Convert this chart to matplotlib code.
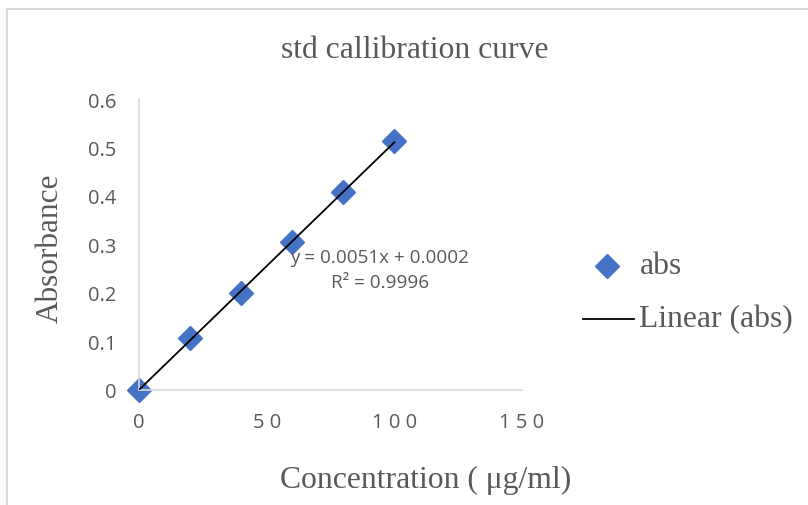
import matplotlib
matplotlib.use("Agg")
import matplotlib.pyplot as plt
import numpy as np
from matplotlib.lines import Line2D

conc = [0, 20, 40, 60, 80, 100]
absorb = [0.0, 0.107, 0.200, 0.305, 0.408, 0.513]
x_ticks = [0, 50, 100, 150]
y_ticks = [0, 0.1, 0.2, 0.3, 0.4, 0.5, 0.6]
y_tick_labels = ["0", "0.1", "0.2", "0.3", "0.4", "0.5", "0.6"]
x_tick_labels = ["0", "5 0", "1 0 0", "1 5 0"]

W, H = 808, 506
fig = plt.figure(figsize=(W / 100, H / 100), dpi=100)
fig.patch.set_facecolor("white")

# outer chart border (only top/left visible)
fig.add_artist(Line2D([7 / W, 1], [1 - 10 / H, 1 - 10 / H], color="#d9d9d9", lw=1.5, transform=fig.transFigure))
fig.add_artist(Line2D([7 / W, 7 / W], [0, 1 - 10 / H], color="#d9d9d9", lw=1.5, transform=fig.transFigure))

ax = fig.add_axes([139 / W, 115 / H, (522 - 139) / W, (391 - 100) / H])
ax.set_xlim(0, 150)
ax.set_ylim(0, 0.6)
for s in ["top", "right"]:
    ax.spines[s].set_visible(False)
for s in ["left", "bottom"]:
    ax.spines[s].set_color("#d9d9d9")
    ax.spines[s].set_linewidth(1.2)
ax.tick_params(length=0, colors="#595959")
ax.set_xticks(x_ticks)
ax.set_xticklabels(x_tick_labels, fontfamily="Open Sans", color="#595959", fontsize=14.5)
ax.set_yticks(y_ticks)
ax.set_yticklabels(y_tick_labels, fontfamily="Open Sans", color="#595959", fontsize=14.5)
ax.tick_params(axis="x", pad=16)
ax.tick_params(axis="y", pad=16)

slope, intercept = np.polyfit(conc, absorb, 1)
xs = np.array([min(conc), max(conc)])
ax.plot(xs, slope * xs + intercept, color="black", lw=1.3, zorder=3)
ax.plot(conc, absorb, linestyle="none", marker="D", markersize=12, color="#4472C4", zorder=2, clip_on=False)

ax.text(379 / W, 1 - 258 / H, "y = 0.0051x + 0.0002", transform=fig.transFigure, ha="center", va="center",
        fontsize=13.6, color="#595959", fontfamily="Open Sans")
ax.text(380 / W, 1 - 283 / H, "R² = 0.9996", transform=fig.transFigure, ha="center", va="center",
        fontsize=13.6, color="#595959", fontfamily="Open Sans")

fig.text(415 / W, 1 - 51 / H, "std callibration curve", ha="center", va="center",
         fontsize=22.8, color="#595959", fontfamily="Liberation Serif")
fig.text(50 / W, 1 - 248 / H, "Absorbance", ha="center", va="center", rotation=90,
         fontsize=22.5, color="#595959", fontfamily="Liberation Serif")
fig.text(426 / W, 1 - 480 / H, "Concentration ( μg/ml)", ha="center", va="center",
         fontsize=22.8, color="#595959", fontfamily="Liberation Serif")

# legend
fig.add_artist(Line2D([607 / W], [1 - 267 / H], marker="D", markersize=12, color="#4472C4",
                      linestyle="none", transform=fig.transFigure))
fig.text(640 / W, 1 - 267 / H, "abs", ha="left", va="center", fontsize=22.8, color="#595959",
         fontfamily="Liberation Serif")
fig.add_artist(Line2D([583 / W, 634 / W], [1 - 320 / H, 1 - 320 / H], color="black", lw=1.3,
                      transform=fig.transFigure))
fig.text(639 / W, 1 - 320 / H, "Linear (abs)", ha="left", va="center", fontsize=22.8, color="#595959",
         fontfamily="Liberation Serif")

fig.savefig("out.png", dpi=100, facecolor="white")
